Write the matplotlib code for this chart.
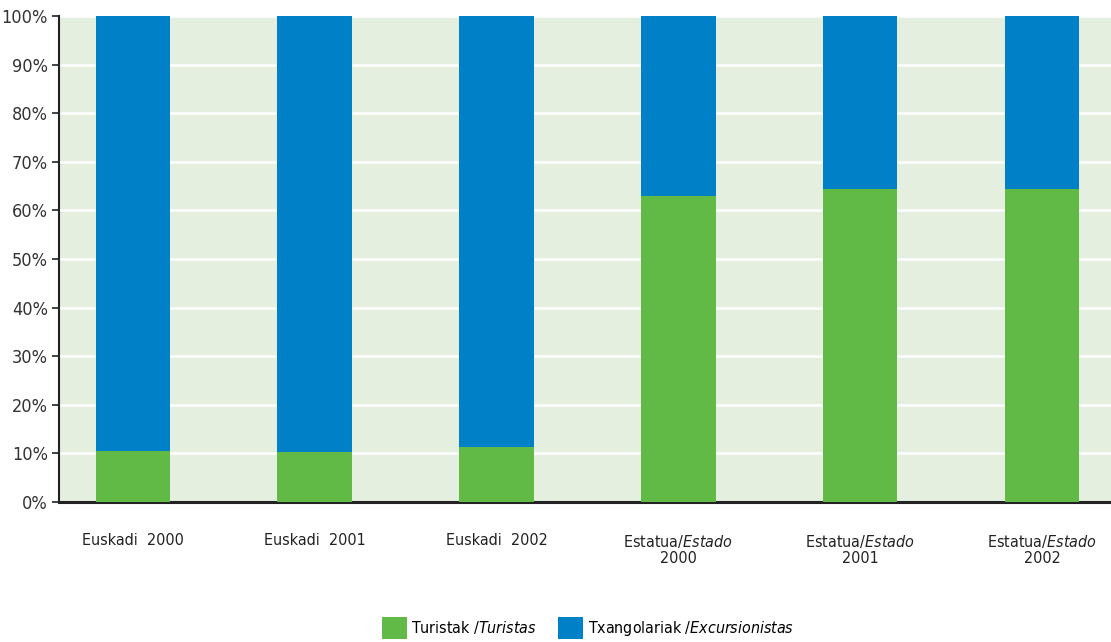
import matplotlib
matplotlib.use("Agg")
import matplotlib.pyplot as plt
from matplotlib.patches import Patch

plt.rcParams['font.family'] = ['DejaVu Sans']
plt.rcParams['font.stretch'] = 'condensed'
plt.rcParams['mathtext.fontset'] = 'custom'
plt.rcParams['mathtext.rm'] = 'DejaVu Sans:stretch=condensed'
plt.rcParams['mathtext.it'] = 'DejaVu Sans:style=italic:stretch=condensed'

categories = ["Euskadi  2000", "Euskadi  2001", "Euskadi  2002",
              "Estatua/$\\it{Estado}$\n2000", "Estatua/$\\it{Estado}$\n2001",
              "Estatua/$\\it{Estado}$\n2002"]
turistak = [10.5, 10.3, 11.3, 62.9, 64.4, 64.4]
txangolariak = [100 - v for v in turistak]
series_labels = ["Turistak /$\\it{Turistas}$", "Txangolariak /$\\it{Excursionistas}$"]
yticks = [0, 10, 20, 30, 40, 50, 60, 70, 80, 90, 100]
ytick_labels = [f"{v}%" for v in yticks]

green = "#62BA46"
blue = "#0080C6"
bg = "#E4EFDF"

fig = plt.figure(figsize=(11.11, 6.42), dpi=100)
ax = fig.add_axes([0.053, 0.218, 0.947, 0.757])
ax.set_facecolor(bg)

x = list(range(len(categories)))
w = 0.41
ax.bar(x, turistak, width=w, color=green, zorder=3)
ax.bar(x, txangolariak, width=w, bottom=turistak, color=blue, zorder=3)

ax.set_ylim(0, 100)
ax.set_xlim(-0.407, 5.38)
ax.set_yticks(yticks)
ax.set_yticklabels(ytick_labels, fontsize=13, color="#333333")
ax.yaxis.grid(True, color="white", linewidth=1.8, zorder=1)
ax.set_axisbelow(True)
ax.tick_params(axis='y', length=5, width=1.2, color="#222222", pad=3)
ax.tick_params(axis='x', length=0, pad=22)
ax.set_xticks(x)
ax.set_xticklabels(categories, fontsize=11.5, color="#222222", linespacing=1.1)
for lbl in ax.get_xticklabels():
    lbl.set_verticalalignment('top')

for s in ['top', 'right']:
    ax.spines[s].set_visible(False)
ax.spines['left'].set_color("#222222")
ax.spines['left'].set_linewidth(1.5)
ax.spines['bottom'].set_color("#222222")
ax.spines['bottom'].set_linewidth(2.2)

handles = [Patch(facecolor=green, label=series_labels[0]),
           Patch(facecolor=blue, label=series_labels[1])]
fig.legend(handles=handles, loc='center', bbox_to_anchor=(0.529, 0.022), ncol=2,
           frameon=False, fontsize=11.4, handlelength=1.58, handleheight=1.7,
           handletextpad=0.3, columnspacing=1.33)

fig.savefig("out.png", dpi=100, facecolor="white")
